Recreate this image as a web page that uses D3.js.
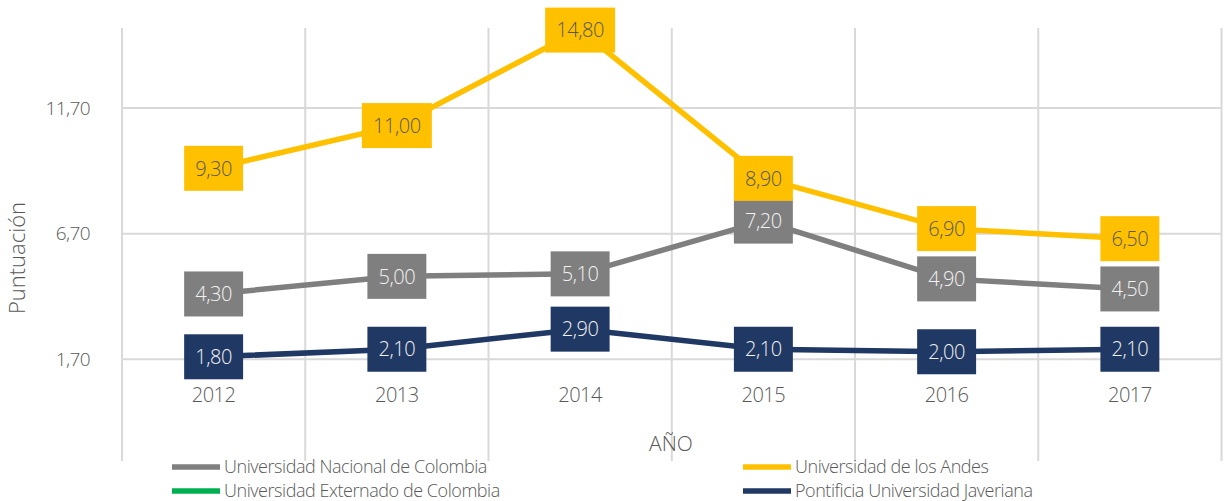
<!DOCTYPE html>
<html>
<head>
<meta charset="utf-8">
<script src="https://cdn.jsdelivr.net/npm/d3@7"></script>
<style>
  body { margin: 0; background: #fff; }
  svg text { font-family: "Open Sans", "Segoe UI", sans-serif; font-weight: 300; }
</style>
</head>
<body>
<svg width="1225" height="501"></svg>
<script>
const svg = d3.select("svg");

// data
var years = ["2012", "2013", "2014", "2015", "2016", "2017"];
var nacional = [4.3, 5.0, 5.1, 7.2, 4.9, 4.5];
var andes = [9.3, 11.0, 14.8, 8.9, 6.9, 6.5];
var externado = [null, null, null, null, null, null];
var javeriana = [1.8, 2.1, 2.9, 2.1, 2.0, 2.1];
var yTicks = [1.7, 6.7, 11.7];

var series = [
  {name: "Universidad Nacional de Colombia", values: nacional, color: "#7F7F7F", txt: "#F2F2F2"},
  {name: "Universidad de los Andes", values: andes, color: "#FFC000", txt: "#595959"},
  {name: "Universidad Externado de Colombia", values: externado, color: "#00B050", txt: "#FFFFFF"},
  {name: "Pontificia Universidad Javeriana", values: javeriana, color: "#203864", txt: "#F2F2F2"}
];

var plotTop = 28, plotBottom = 461;
var x = d3.scaleBand().domain(years).range([122, 1221.5]).padding(0);
var y = d3.scaleLinear().domain([1.7, 11.7]).range([359.3, 108]);
var fmt = function(v) { return d3.format(".2f")(v).replace(".", ","); };

// gridlines
var grid = svg.append("g").attr("stroke", "#D9D9D9").attr("stroke-width", 2);
grid.selectAll(".h").data(yTicks).enter().append("line")
  .attr("x1", x.range()[0]).attr("x2", x.range()[1])
  .attr("y1", d => y(d)).attr("y2", d => y(d));
grid.selectAll(".v").data(years.concat(["end"])).enter().append("line")
  .attr("x1", (d, i) => x.range()[0] + i * x.bandwidth())
  .attr("x2", (d, i) => x.range()[0] + i * x.bandwidth())
  .attr("y1", plotTop).attr("y2", plotBottom);

// y axis labels
svg.selectAll(".ytick").data(yTicks).enter().append("text")
  .attr("x", 90).attr("y", d => y(d)).attr("dy", "0.35em")
  .attr("text-anchor", "end").attr("font-size", 19).attr("fill", "#595959")
  .attr("letter-spacing", -0.6)
  .text(d => fmt(d));

// x axis labels
svg.selectAll(".xtick").data(years).enter().append("text")
  .attr("x", d => x(d) + x.bandwidth() / 2).attr("y", 395).attr("dy", "0.35em")
  .attr("text-anchor", "middle").attr("font-size", 20).attr("fill", "#595959")
  .attr("letter-spacing", -0.5)
  .text(d => d);

svg.append("text").attr("transform", "translate(25,258) rotate(-90)")
  .attr("text-anchor", "middle").attr("font-size", 22).attr("fill", "#595959")
  .text("Puntuación");
svg.append("text").attr("x", 671).attr("y", 444).attr("dy", "0.35em")
  .attr("text-anchor", "middle").attr("font-size", 21).attr("fill", "#595959")
  .text("AÑO");

// lines
var line = d3.line()
  .defined(d => d.v != null)
  .x(d => x(d.year) + x.bandwidth() / 2)
  .y(d => y(d.v));

series.forEach(function(s) {
  var pts = years.map((yr, i) => ({year: yr, v: s.values[i]}));
  svg.append("path").datum(pts)
    .attr("fill", "none").attr("stroke", s.color).attr("stroke-width", 5.5)
    .attr("d", line);
});

// data labels
series.forEach(function(s) {
  var pts = years.map((yr, i) => ({year: yr, v: s.values[i]})).filter(d => d.v != null);
  var g = svg.append("g").selectAll("g").data(pts).enter().append("g")
    .attr("transform", d => "translate(" + (x(d.year) + x.bandwidth() / 2) + "," + y(d.v) + ")");
  g.append("rect").attr("fill", s.color);
  var t = g.append("text").attr("text-anchor", "middle").attr("dy", "0.36em")
    .attr("font-size", 20).attr("fill", s.txt).attr("letter-spacing", -0.4)
    .text(d => fmt(d.v));
  t.each(function() {
    var w = this.getComputedTextLength() + 22;
    d3.select(this.parentNode).select("rect")
      .attr("x", -w / 2).attr("y", -22.5).attr("width", w).attr("height", 45);
  });
});

// legend
var legPos = [[172, 467], [743, 467], [172, 491], [743, 491]];
var leg = svg.selectAll(".leg").data(series).enter().append("g")
  .attr("transform", (d, i) => "translate(" + legPos[i][0] + "," + legPos[i][1] + ")");
leg.append("line").attr("x1", 0).attr("x2", 48).attr("y1", 0).attr("y2", 0)
  .attr("stroke", d => d.color).attr("stroke-width", 5.5);
leg.append("text").attr("x", 52).attr("dy", "0.35em").attr("font-size", 18)
  .attr("letter-spacing", -0.45)
  .attr("fill", "#595959").text(d => d.name);
</script>
</body>
</html>
